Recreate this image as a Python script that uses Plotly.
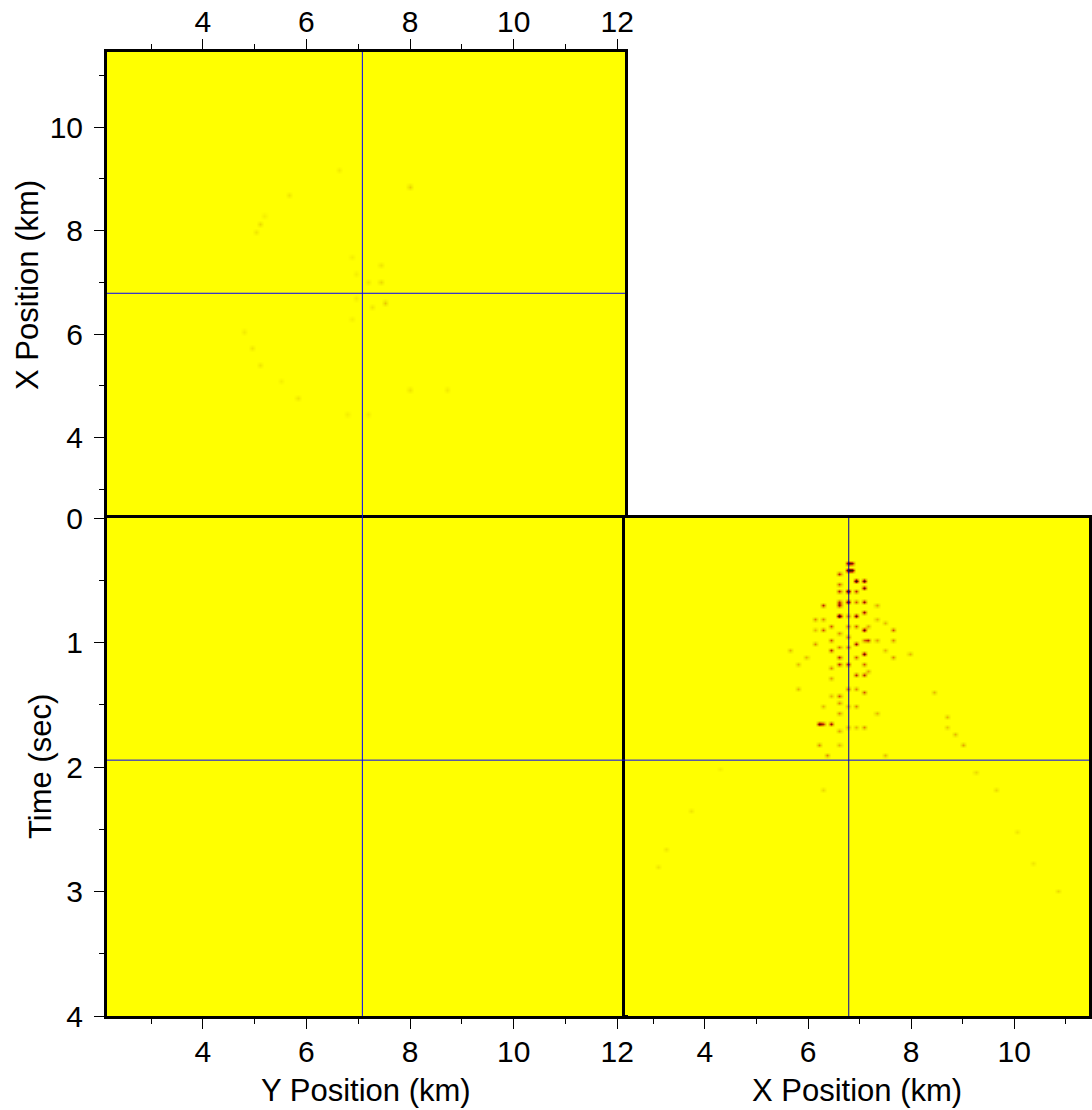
import numpy as np
import plotly.graph_objects as go

# ---- cube geometry (km, sec) ----
Y_RANGE = [2.15, 12.15]      # crossline axis
X_RANGE = [2.45, 11.45]      # inline axis
T_RANGE = [0.0, 4.0]         # two-way time
Y_SLICE = 7.08               # crossline of the X-time section
X_SLICE = 6.79               # inline of the Y-time section
T_SLICE = 1.945              # time of the depth slice

# ---- X-time section events: position, time, normalised amplitude ----
sec_x = [6.75, 6.85, 6.75, 6.89, 6.60, 6.90, 7.06, 6.60, 6.75, 6.60,
         6.90, 7.06, 6.75, 6.60, 6.90, 7.06, 6.29, 6.60, 6.60, 6.90,
         7.06, 6.75, 6.13, 6.42, 7.06, 6.75, 6.90, 7.20, 6.90, 6.75,
         6.46, 6.60, 7.06, 6.75, 6.60, 6.90, 7.06, 6.46, 7.65, 7.65,
         7.65, 7.49, 7.33, 6.17, 5.84, 6.23, 6.42, 6.26, 6.60, 6.60,
         6.60, 7.06, 6.90, 7.06, 6.23, 6.41, 6.75, 6.46, 6.29, 7.97,
         8.42, 9.01, 5.68, 5.97, 5.84, 7.33, 7.52, 8.68, 8.68, 8.88,
         9.27, 9.62, 10.04, 10.36, 10.82, 6.33, 3.74, 3.26, 3.06, 4.32,
         6.60, 6.60, 7.06, 7.06, 6.75, 6.90, 6.90, 6.75, 6.75, 6.60,
         6.60, 6.90, 7.20, 7.20, 6.29, 6.13, 6.46, 6.46, 6.29, 7.33,
         7.33, 7.49]
sec_t = [0.37, 0.37, 0.42, 0.43, 0.46, 0.51, 0.51, 0.52, 0.60, 0.60,
         0.60, 0.56, 0.66, 0.66, 0.67, 0.66, 0.69, 0.71, 0.78, 0.79,
         0.75, 0.77, 0.82, 0.87, 0.89, 0.86, 0.87, 0.99, 1.01, 1.03,
         1.06, 1.13, 1.10, 1.17, 1.19, 1.27, 1.27, 1.21, 0.90, 0.98,
         1.11, 0.83, 0.69, 1.01, 1.19, 1.64, 1.64, 1.66, 1.42, 1.49,
         1.57, 1.41, 1.52, 1.68, 1.81, 1.90, 1.36, 0.98, 0.89, 1.10,
         1.41, 1.82, 1.05, 1.13, 1.36, 1.58, 1.89, 1.60, 1.67, 1.73,
         2.04, 2.18, 2.51, 2.77, 2.99, 2.18, 2.35, 2.67, 2.79, 2.01,
         0.93, 1.03, 1.19, 0.98, 0.95, 1.13, 1.36, 1.52, 1.68, 1.70,
         1.81, 1.68, 1.22, 0.87, 0.81, 0.90, 1.30, 1.44, 1.52, 0.98,
         0.82, 1.06]
sec_amp = [0.85, 0.70, 1.00, 0.90, 0.60, 1.00, 0.90, 0.50, 1.00, 0.60,
           0.60, 0.80, 0.90, 0.60, 0.50, 0.70, 0.60, 0.70, 1.00, 0.80,
           0.70, 0.50, 0.40, 0.50, 0.80, 0.50, 0.50, 0.60, 0.70, 0.50,
           0.60, 0.60, 0.80, 0.70, 0.60, 0.60, 0.60, 0.40, 0.50, 0.40,
           0.40, 0.30, 0.35, 0.40, 0.30, 0.80, 0.70, 0.60, 0.50, 0.40,
           0.40, 0.50, 0.40, 0.40, 0.40, 0.40, 0.50, 0.50, 0.50, 0.30,
           0.30, 0.35, 0.30, 0.30, 0.30, 0.30, 0.30, 0.30, 0.25, 0.30,
           0.20, 0.20, 0.15, 0.15, 0.20, 0.20, 0.15, 0.15, 0.15, 0.10,
           0.40, 0.45, 0.50, 0.45, 0.50, 0.50, 0.40, 0.35, 0.35, 0.35,
           0.30, 0.30, 0.35, 0.35, 0.40, 0.30, 0.35, 0.30, 0.30, 0.35,
           0.30, 0.30]

# ---- time-slice events: crossline, inline, amplitude ----
slc_y = [7.99, 5.12, 5.07, 5.67, 7.53, 7.46, 7.18, 7.42, 7.29, 4.97,
         5.12, 5.84, 8.03, 8.68, 6.81, 4.81, 5.52, 7.16, 6.92, 6.90,
         6.67, 6.94, 6.91, 5.21]
slc_x = [8.86, 8.11, 7.96, 8.71, 6.60, 7.03, 7.05, 7.36, 6.57, 5.70,
         5.41, 4.80, 4.96, 4.96, 4.47, 6.02, 5.12, 4.44, 6.73, 6.28,
         9.17, 7.20, 7.51, 8.27]
slc_amp = [0.22, 0.20, 0.15, 0.15, 0.25, 0.20, 0.15, 0.15, 0.15, 0.15,
           0.15, 0.15, 0.15, 0.12, 0.10, 0.12, 0.10, 0.12, 0.12, 0.10,
           0.12, 0.10, 0.10, 0.10]

# ---- Y-time section events (none above the clip level) ----
ysec_y = []
ysec_t = []
ysec_amp = []

# ---- sampling used to grid the events ----
DX = 0.08
DT = 0.028


def axis_samples(lo, hi, step):
    n = int(np.floor((hi - lo) / step + 1e-9)) + 1
    return lo + step * np.arange(n)


def grid_events(h_axis, v_axis, hs, vs, amps):
    z = np.zeros((len(v_axis), len(h_axis)))
    h0, dh = h_axis[0], h_axis[1] - h_axis[0]
    v0, dv = v_axis[0], v_axis[1] - v_axis[0]
    for h, v, a in zip(hs, vs, amps):
        j = int(round((h - h0) / dh))
        i = int(round((v - v0) / dv))
        if 0 <= i < z.shape[0] and 0 <= j < z.shape[1]:
            z[i, j] = max(z[i, j], a)
    return z


y_ax = axis_samples(Y_RANGE[0], Y_RANGE[1], DX)
x_ax = axis_samples(X_RANGE[0], X_RANGE[1], DX)
t_ax = axis_samples(T_RANGE[0], T_RANGE[1], DT)

z_slice = grid_events(y_ax, x_ax, slc_y, slc_x, slc_amp)
z_ysec = grid_events(y_ax, t_ax, ysec_y, ysec_t, ysec_amp)
z_xsec = grid_events(x_ax, t_ax, sec_x, sec_t, sec_amp)

amp_scale = [
    [0.0, "#ffff00"],
    [0.15, "#f0e600"],
    [0.35, "#eaa000"],
    [0.55, "#c83000"],
    [0.75, "#6a1a00"],
    [1.0, "#281800"],
]

common = dict(colorscale=amp_scale, zmin=0, zmax=1, showscale=False,
              zsmooth="best", hoverinfo="skip")

fig = go.Figure()
fig.add_trace(go.Heatmap(x=y_ax, y=x_ax, z=z_slice, xaxis="x", yaxis="y", **common))
fig.add_trace(go.Heatmap(x=y_ax, y=t_ax, z=z_ysec, xaxis="x2", yaxis="y2", **common))
fig.add_trace(go.Heatmap(x=x_ax, y=t_ax, z=z_xsec, xaxis="x3", yaxis="y3", **common))

# ---- page layout in pixels ----
W, H = 1092, 1110
LEFT, MID, RIGHT = 107, 625, 1089
TOP, MIDY, BOTTOM = 52, 518, 1016


def px(v):
    return v / W


def py(v):
    return 1 - v / H


FONT = "Liberation Sans, Arial, Helvetica, sans-serif"
tick_font = dict(family=FONT, size=30, color="black")

frame = dict(showline=True, linewidth=3, linecolor="black", mirror=True,
             showgrid=False, zeroline=False, ticks="outside", ticklen=10,
             tickwidth=1, tickcolor="black", tickfont=tick_font,
             automargin=False)
minor_km = dict(dtick=1, ticks="outside", ticklen=5, tickwidth=1, tickcolor="black")
minor_t = dict(dtick=0.5, ticks="outside", ticklen=5, tickwidth=1, tickcolor="black")
no_ticks = dict(showline=True, linewidth=3, linecolor="black", mirror=True,
                showgrid=False, zeroline=False, ticks="", showticklabels=False,
                automargin=False)

fig.update_layout(
    width=W, height=H,
    autosize=False,
    margin=dict(l=0, r=0, t=0, b=0, pad=0, autoexpand=False),
    paper_bgcolor="white",
    plot_bgcolor="#ffff00",
    showlegend=False,
    # time slice: crossline across the top, inline down the side
    xaxis=dict(domain=[px(LEFT), px(MID)], anchor="y", side="top",
               range=Y_RANGE, tick0=0, dtick=2, minor=minor_km,
               ticklabelstandoff=-5, **frame),
    yaxis=dict(domain=[py(MIDY), py(TOP)], anchor="x",
               range=X_RANGE, tick0=0, dtick=2, minor=minor_km,
               ticklabelstandoff=5, **frame),
    # Y-time section
    xaxis2=dict(domain=[px(LEFT), px(MID)], anchor="y2",
                range=Y_RANGE, tick0=0, dtick=2, minor=minor_km,
                ticklabelstandoff=-3, **frame),
    yaxis2=dict(domain=[py(BOTTOM), py(MIDY)], anchor="x2",
                range=[T_RANGE[1], T_RANGE[0]], tick0=0, dtick=1,
                minor=minor_t, ticklabelstandoff=5, **frame),
    # X-time section
    xaxis3=dict(domain=[px(MID), px(RIGHT)], anchor="y3",
                range=X_RANGE, tick0=0, dtick=2, minor=minor_km,
                ticklabelstandoff=-3, **frame),
    yaxis3=dict(domain=[py(BOTTOM), py(MIDY)], anchor="x3",
                range=[T_RANGE[1], T_RANGE[0]], **no_ticks),
)

# ---- slice cross-hairs ----
blue = dict(color="#0000ff", width=1)
navy = dict(color="#0000a8", width=1)
fig.add_shape(type="line", xref="x", yref="y", x0=Y_SLICE, x1=Y_SLICE,
              y0=X_RANGE[0], y1=X_RANGE[1], line=blue)
fig.add_shape(type="line", xref="x", yref="y", x0=Y_RANGE[0], x1=Y_RANGE[1],
              y0=X_SLICE, y1=X_SLICE, line=blue)
fig.add_shape(type="line", xref="x2", yref="y2", x0=Y_SLICE, x1=Y_SLICE,
              y0=T_RANGE[0], y1=T_RANGE[1], line=blue)
fig.add_shape(type="line", xref="x2", yref="y2", x0=Y_RANGE[0], x1=Y_RANGE[1],
              y0=T_SLICE, y1=T_SLICE, line=blue)
fig.add_shape(type="line", xref="x3", yref="y3", x0=X_SLICE, x1=X_SLICE,
              y0=T_RANGE[0], y1=T_RANGE[1], line=navy)
fig.add_shape(type="line", xref="x3", yref="y3", x0=X_RANGE[0], x1=X_RANGE[1],
              y0=T_SLICE, y1=T_SLICE, line=blue)

# ---- axis titles ----
title_font = dict(family=FONT, size=31, color="black")
titles = [
    ("X Position (km)", 27, (TOP + MIDY) / 2, -90),
    ("Time (sec)", 40, (MIDY + BOTTOM) / 2, -90),
    ("Y Position (km)", (LEFT + MID) / 2, 1090, 0),
    ("X Position (km)", (MID + RIGHT) / 2, 1090, 0),
]
for text, cx, cy, ang in titles:
    fig.add_annotation(text=text, x=px(cx), y=py(cy), xref="paper", yref="paper",
                       showarrow=False, textangle=ang, font=title_font,
                       xanchor="center", yanchor="middle")

fig.write_html("out.html")
